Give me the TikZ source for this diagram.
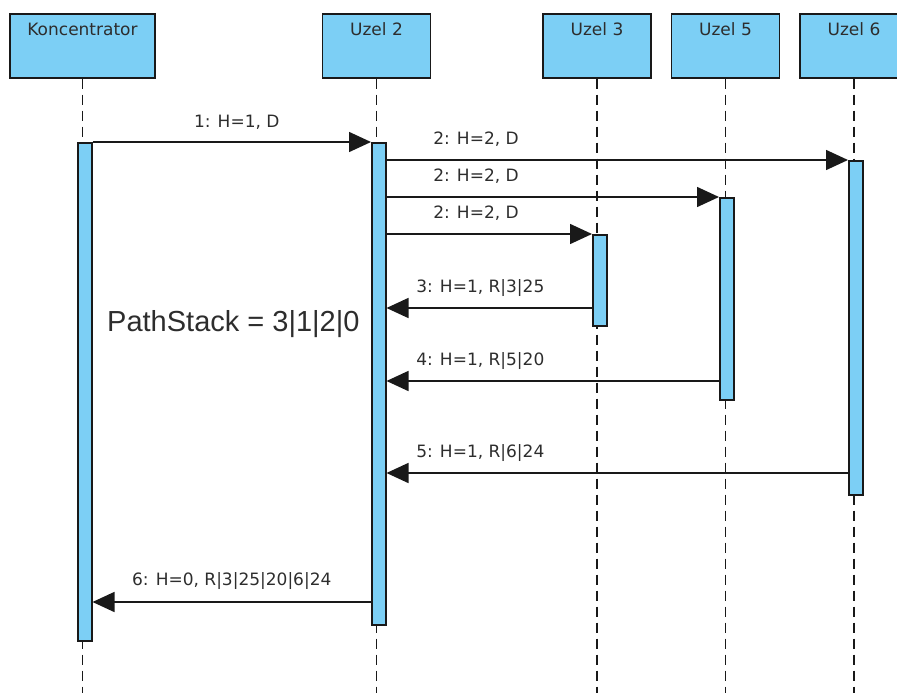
\documentclass[tikz,border=0pt]{standalone}
\usepackage{fontspec}
\setmainfont{DejaVu Sans}
\newfontfamily\stackfont{Liberation Sans}
\usetikzlibrary{arrows.meta}
\usetikzlibrary{positioning}
\definecolor{lifeblue}{RGB}{124,207,245}
\definecolor{darkline}{RGB}{25,25,25}
\definecolor{textgray}{RGB}{45,45,45}

\begin{document}
\begin{tikzpicture}[x=1pt, y=-1pt,
        head/.style={draw=darkline, line width=1.6pt, fill=lifeblue, anchor=north,
                     minimum width=108pt, inner sep=0pt, text height=22pt, text depth=42pt,
                     font=\fontsize{17}{19}\selectfont, text=textgray},
        bar/.style={draw=darkline, line width=1.5pt, fill=lifeblue, anchor=north west,
                    minimum width=14pt, inner sep=0pt},
        life/.style={draw=darkline, line width=1.3pt, dash pattern=on 10pt off 6pt},
        msg/.style={draw=darkline, line width=1.5pt, -{Triangle[length=22pt, width=20pt]}},
        lbl/.style={font=\fontsize{17}{19}\selectfont, text=textgray, inner sep=0pt}]
        \useasboundingbox (0,0) rectangle (897,693);
        \clip (0,0) rectangle (897,693);

        \node[head, minimum width=145pt] (konc)  at (82.5,13) {Koncentrator};
        \node[head]                      (uzel2) at (376.5,13) {Uzel 2};
        \node[head]                      (uzel3) at (597,13)   {Uzel 3};
        \node[head]                      (uzel5) at (725.5,13) {Uzel 5};
        \node[head]                      (uzel6) at (854,13)   {Uzel 6};

        \coordinate (foot) at (0,693);
        \foreach \n in {konc,uzel2,uzel3,uzel5,uzel6}
            \draw[life] (\n.south) -- (\n.south |- foot);

        \node[bar, minimum height=498pt] (kbar)  at (77,142)  {};
        \node[bar, minimum height=482pt] (bar2)  at (371,142) {};
        \node[bar, minimum height=91pt]  (bar3)  at (592,234) {};
        \node[bar, minimum height=202pt] (bar5)  at (719,197) {};
        \node[bar, minimum height=334pt] (bar6)  at (848,160) {};

        \coordinate (m3) at (0,308);
        \coordinate (m4) at (0,381);
        \coordinate (m5) at (0,473);
        \coordinate (m6) at (0,602);

        \draw[msg] (kbar.north east) --
              node[lbl, anchor=base, xshift=5pt, yshift=15pt] {1: H=1, D} (bar2.north west);
        \draw[msg] (bar2.east |- bar6.north) -- (bar6.north west)
              node[lbl, at start, anchor=base west, xshift=46pt, yshift=16pt] {2: H=2, D};
        \draw[msg] (bar2.east |- bar5.north) -- (bar5.north west)
              node[lbl, at start, anchor=base west, xshift=46pt, yshift=16pt] {2: H=2, D};
        \draw[msg] (bar2.east |- bar3.north) -- (bar3.north west)
              node[lbl, at start, anchor=base west, xshift=46pt, yshift=16pt] {2: H=2, D};
        \draw[msg] (bar3.west |- m3) -- (bar2.east |- m3)
              node[lbl, at end, anchor=base west, xshift=29pt, yshift=16pt] {3: H=1, R|3|25};
        \draw[msg] (bar5.west |- m4) -- (bar2.east |- m4)
              node[lbl, at end, anchor=base west, xshift=29pt, yshift=16pt] {4: H=1, R|5|20};
        \draw[msg] (bar6.west |- m5) -- (bar2.east |- m5)
              node[lbl, at end, anchor=base west, xshift=29pt, yshift=16pt] {5: H=1, R|6|24};
        \draw[msg] (bar2.west |- m6) --
              node[lbl, anchor=base, yshift=17pt] {6: H=0, R|3|25|20|6|24} (kbar.east |- m6);

        \node[anchor=base west, inner sep=0pt, text=textgray,
              font=\stackfont\fontsize{29}{33}\selectfont] (stack) at (107,331) {PathStack = 3|1|2|0};
    \end{tikzpicture}
\end{document}
